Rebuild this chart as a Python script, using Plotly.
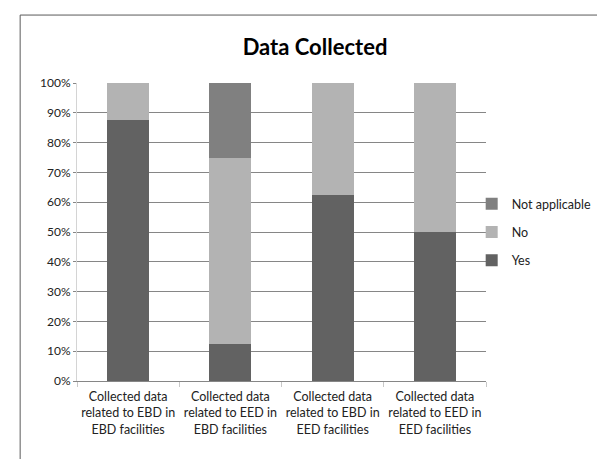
import plotly.graph_objects as go

categories = [
    "Collected data<br>related to EBD in<br>EBD facilities",
    "Collected data<br>related to EED in<br>EBD facilities",
    "Collected data<br>related to EBD in<br>EED facilities",
    "Collected data<br>related to EED in<br>EED facilities",
]
yes_vals = [87.5, 12.5, 62.5, 50.0]
no_vals = [12.5, 62.5, 37.5, 50.0]
na_vals = [0.0, 25.0, 0.0, 0.0]
y_ticks = [0, 10, 20, 30, 40, 50, 60, 70, 80, 90, 100]
y_tick_labels = [f"{v}%" for v in y_ticks]

FONT = "Lato, DejaVu Sans Condensed, sans-serif"

fig = go.Figure()
fig.add_trace(go.Bar(x=categories, y=yes_vals, name="Yes", marker_color="#626262",
                     marker_line_width=0, legendgroup="a", legendrank=3))
fig.add_trace(go.Bar(x=categories, y=no_vals, name="No", marker_color="#b3b3b3",
                     marker_line_width=0, legendgroup="b", legendrank=2))
fig.add_trace(go.Bar(x=categories, y=na_vals, name="Not applicable", marker_color="#808080",
                     marker_line_width=0, legendgroup="c", legendrank=1))

fig.update_layout(
    barmode="stack",
    bargap=0.59,
    width=605,
    height=459,
    margin=dict(l=69, r=127, t=75, b=86),
    paper_bgcolor="white",
    plot_bgcolor="white",
    font=dict(family=FONT, size=12, color="#222222"),
    title=dict(text="<b>Data Collected</b>", x=307 / 605, xanchor="center", y=1 - 39 / 459,
               yanchor="middle", font=dict(family=FONT, size=22, color="black")),
    showlegend=True,
    legend=dict(x=0.965, y=0.5, xanchor="left", yanchor="middle", traceorder="grouped",
                font=dict(family=FONT, size=12.5, color="#222222"), itemwidth=30, tracegroupgap=9,
                bgcolor="rgba(0,0,0,0)"),
    xaxis=dict(showline=True, linecolor="#868686", linewidth=1, ticks="outside", tickson="boundaries",
               ticklen=5, tickcolor="#c8c8c8", showgrid=False, tickangle=0, automargin=False,
               ticklabelstandoff=4, tickfont=dict(size=12.5, family=FONT)),
    yaxis=dict(range=[0, 100], tickvals=y_ticks, ticktext=y_tick_labels, showline=True,
               linecolor="#d4d4d4", linewidth=1, ticks="outside", ticklen=3, tickcolor="#868686",
               showgrid=True, gridcolor="#868686", gridwidth=1, automargin=False,
               tickfont=dict(size=12, family=FONT), zeroline=False),
    shapes=[dict(type="rect", xref="paper", yref="paper", x0=-0.139, x1=1.303, y0=-0.35, y1=1.228,
                 line=dict(color="#5a5a5a", width=1), fillcolor="rgba(0,0,0,0)", layer="below")],
)

fig.write_html("out.html")
